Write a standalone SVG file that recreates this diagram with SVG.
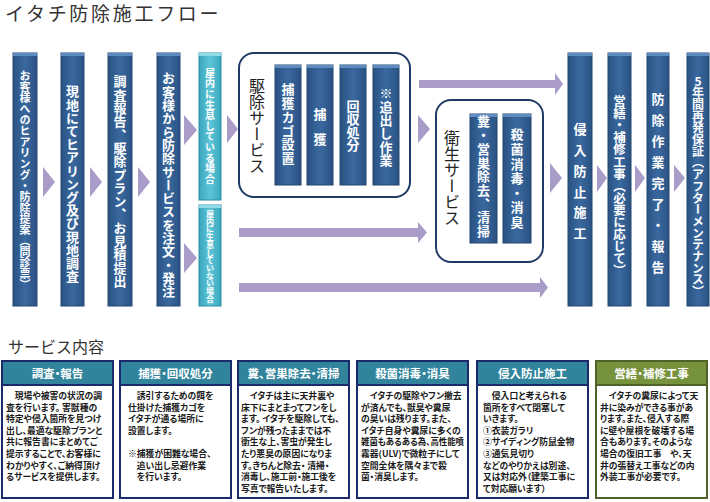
<svg xmlns="http://www.w3.org/2000/svg" width="710" height="502" viewBox="0 0 710 502">
<defs>
<linearGradient id="gB" x1="0" y1="0" x2="1" y2="0">
<stop offset="0" stop-color="#2a5282"/><stop offset="0.5" stop-color="#3a69a0"/><stop offset="1" stop-color="#2a5282"/>
</linearGradient>
<linearGradient id="gC" x1="0" y1="0" x2="1" y2="0">
<stop offset="0" stop-color="#3aa6bd"/><stop offset="0.5" stop-color="#5ec5d8"/><stop offset="1" stop-color="#3aa6bd"/>
</linearGradient>
<style>
.bx{fill:url(#gB);stroke:#22466f;stroke-width:1}
.cap{fill:#5f8cc0}
.cx{fill:url(#gC);stroke:#2e8ea3;stroke-width:1}
.ccap{fill:#8fdbe8}
.vt{writing-mode:vertical-rl;text-orientation:upright;font-family:"Noto Sans CJK JP","Noto Sans",sans-serif;fill:#fff;font-weight:bold}
.vl{writing-mode:vertical-rl;text-orientation:upright;font-family:"Noto Sans CJK JP","Noto Sans",sans-serif;fill:#222;font-size:16px}
.grp{fill:#fff;stroke:#1f3a66;stroke-width:2}
.ar{fill:#a99cc9}
.ttl{font-family:"Noto Sans CJK JP",sans-serif;fill:#333}
.card{fill:#fff;stroke:#1b2a6b;stroke-width:2}
.hd{fill:#31849b}
.cardg{fill:#fff;stroke:#4f6228;stroke-width:2}
.hdg{fill:#76923c}
.ht{font-family:"Noto Sans CJK JP",sans-serif;font-size:11.5px;font-weight:bold;fill:#fff;text-anchor:middle;font-feature-settings:"palt"}
.bt{font-family:"Noto Sans CJK JP",sans-serif;font-size:8.8px;font-weight:bold;fill:#1a1a1a;font-feature-settings:"palt"}
</style>
</defs>
<rect width="710" height="502" fill="#fff"/>
<text class="ttl" x="5" y="21" font-size="19" letter-spacing="2.7">イタチ防除施工フロー</text>

<g id="connectors">
<polygon class="ar" points="43,167 55,182 43,197"/>
<polygon class="ar" points="90,167 102,182 90,197"/>
<polygon class="ar" points="138,167 150,182 138,197"/>
<polygon class="ar" points="184,115 197,130 184,145"/>
<polygon class="ar" points="184,243 197,258 184,273"/>
<polygon class="ar" points="227,115 238,129 227,143"/>
<polygon class="ar" points="418,115 430,129 418,143"/>
<polygon class="ar" points="550,163 562,178 550,193"/>
<polygon class="ar" points="597,165 607,178 597,192"/>
<polygon class="ar" points="635,165 645,178 635,192"/>
<polygon class="ar" points="674,165 685,178 674,192"/>
<path class="ar" d="M419,80 H555 V73 L563,84 L555,95 V88 H419 Z"/>
<path class="ar" d="M239,228 H418 V222 L427,232.5 L418,243 V237 H239 Z"/>
<path class="ar" d="M239,283 H540 V277 L548,287.5 L540,298 V292 H239 Z"/>
</g>

<g id="n1"><rect class="bx" x="13" y="53" width="24" height="253"/><rect class="cap" x="13" y="53" width="24" height="3"/>
<text class="vt" x="25" y="70" font-size="11">お客様へのヒアリング・防除提案（問診票）</text></g>
<g id="n2"><rect class="bx" x="61" y="53" width="23" height="253"/><rect class="cap" x="61" y="53" width="23" height="3"/>
<text class="vt" x="72.5" y="85" font-size="13" letter-spacing="0.2">現地にてヒアリング及び現地調査</text></g>
<g id="n3"><rect class="bx" x="108" y="53" width="24" height="253"/><rect class="cap" x="108" y="53" width="24" height="3"/>
<text class="vt" x="120" y="75" font-size="13" letter-spacing="0.3">調査報告、駆除プラン、お見積提出</text></g>
<g id="n4"><rect class="bx" x="157" y="53" width="23" height="253"/><rect class="cap" x="157" y="53" width="23" height="3"/>
<text class="vt" x="168.5" y="72" font-size="13" letter-spacing="0.3">お客様から防除サービスを注文・発注</text></g>
<g id="c1"><rect class="cx" x="199" y="53" width="22" height="147"/><rect class="ccap" x="199" y="53" width="22" height="3"/>
<text class="vt" x="210" y="68" font-size="10" letter-spacing="0.6">屋内に生息している場合</text></g>
<g id="c2"><rect class="cx" x="199" y="205" width="22" height="101"/><rect class="ccap" x="199" y="205" width="22" height="3"/>
<text class="vt" x="210" y="210" font-size="8" letter-spacing="-0.3">屋内に生息していない場合</text></g>

<g id="kujo">
<rect class="grp" x="239" y="53" width="171" height="144" rx="15"/>
<text class="vl" x="257" y="78">駆除サービス</text>
<rect class="bx" x="275" y="65" width="26" height="120"/><rect class="cap" x="275" y="65" width="26" height="3"/>
<text class="vt" x="288" y="83" font-size="13" letter-spacing="0.7">捕獲カゴ設置</text>
<rect class="bx" x="307" y="65" width="26" height="120"/><rect class="cap" x="307" y="65" width="26" height="3"/>
<text class="vt" x="320" y="108" font-size="13" letter-spacing="12">捕獲</text>
<rect class="bx" x="340" y="65" width="26" height="120"/><rect class="cap" x="340" y="65" width="26" height="3"/>
<text class="vt" x="353" y="100" font-size="13">回収処分</text>
<rect class="bx" x="373" y="65" width="26" height="120"/><rect class="cap" x="373" y="65" width="26" height="3"/>
<text class="vt" x="386" y="87" font-size="13" letter-spacing="0.3">※追出し作業</text>
</g>

<g id="eisei">
<rect class="grp" x="436" y="100" width="107" height="162" rx="15"/>
<text class="vl" x="452" y="130">衛生サービス</text>
<rect class="bx" x="470" y="114" width="27" height="129"/><rect class="cap" x="470" y="114" width="27" height="3"/>
<text class="vt" x="483.5" y="115" font-size="13" letter-spacing="0.7">糞・営巣除去、清掃</text>
<rect class="bx" x="503" y="114" width="28" height="129"/><rect class="cap" x="503" y="114" width="28" height="3"/>
<text class="vt" x="517" y="128" font-size="13" letter-spacing="1.6">殺菌消毒・消臭</text>
</g>

<g id="n5"><rect class="bx" x="568" y="53" width="24" height="253"/><rect class="cap" x="568" y="53" width="24" height="3"/>
<text class="vt" x="580" y="123" font-size="13" letter-spacing="7.7">侵入防止施工</text></g>
<g id="n6"><rect class="bx" x="608" y="53" width="23" height="253"/><rect class="cap" x="608" y="53" width="23" height="3"/>
<text class="vt" x="619.5" y="95" font-size="12.5" letter-spacing="-0.4">営繕・補修工事（必要に応じて）</text></g>
<g id="n7"><rect class="bx" x="647" y="53" width="22" height="253"/><rect class="cap" x="647" y="53" width="22" height="3"/>
<text class="vt" x="658" y="93" font-size="13" letter-spacing="8">防除作業完了・報告</text></g>
<g id="n8"><rect class="bx" x="687" y="53" width="22" height="253"/><rect class="cap" x="687" y="53" width="22" height="3"/>
<text class="vt" x="698" y="75" font-size="12" letter-spacing="-0.3">5年間再発保証（アフターメンテナンス）</text></g>

<text class="ttl" x="8" y="353" font-size="16">サービス内容</text>

<g id="card1">
<rect class="card" x="2" y="361" width="111" height="137"/><rect class="hd" x="3" y="362" width="109" height="23"/><line x1="2" y1="385" x2="113" y2="385" stroke="#1b2a6b" stroke-width="2"/>
<text class="ht" x="57.5" y="378">調査・報告</text>
<text class="bt" x="6" y="399">　現場や被害の状況の調</text>
<text class="bt" x="6" y="410.6">査を行います。 害獣種の</text>
<text class="bt" x="6" y="422.2">特定や侵入箇所を見つけ</text>
<text class="bt" x="6" y="433.8">出し、最適な駆除プランと</text>
<text class="bt" x="6" y="445.4">共に報告書にまとめてご</text>
<text class="bt" x="6" y="457">提示することで、お客様に</text>
<text class="bt" x="6" y="468.6">わかりやすく、ご納得頂け</text>
<text class="bt" x="6" y="480.2">るサービスを提供します。</text>
</g>

<g id="card2">
<rect class="card" x="120" y="361" width="111" height="137"/><rect class="hd" x="121" y="362" width="109" height="23"/><line x1="120" y1="385" x2="231" y2="385" stroke="#1b2a6b" stroke-width="2"/>
<text class="ht" x="175.5" y="378">捕獲・回収処分</text>
<text class="bt" x="128" y="399">　誘引するための餌を</text>
<text class="bt" x="128" y="410.6">仕掛けた捕獲カゴを</text>
<text class="bt" x="128" y="422.2">イタチが通る場所に</text>
<text class="bt" x="128" y="433.8">設置します。</text>
<text class="bt" x="128" y="457">※捕獲が困難な場合、</text>
<text class="bt" x="128" y="468.6">　追い出し忌避作業</text>
<text class="bt" x="128" y="480.2">　を行います。</text>
</g>

<g id="card3">
<rect class="card" x="238" y="361" width="111" height="137"/><rect class="hd" x="239" y="362" width="109" height="23"/><line x1="238" y1="385" x2="349" y2="385" stroke="#1b2a6b" stroke-width="2"/>
<text class="ht" x="293.5" y="378" font-size="10.5">糞、営巣除去・清掃</text>
<text class="bt" x="241" y="399">　イタチは主に天井裏や</text>
<text class="bt" x="241" y="410.6">床下にまとまってフンをし</text>
<text class="bt" x="241" y="422.2">ます。 イタチを駆除しても、</text>
<text class="bt" x="241" y="433.8">フンが残ったままでは不</text>
<text class="bt" x="241" y="445.4">衛生な上、害虫が発生し</text>
<text class="bt" x="241" y="457">たり悪臭の原因になりま</text>
<text class="bt" x="241" y="468.6">す。きちんと除去・ 清掃・</text>
<text class="bt" x="241" y="480.2">消毒し、施工前・施工後を</text>
<text class="bt" x="241" y="491.8">写真で報告いたします。</text>
</g>

<g id="card4">
<rect class="card" x="357" y="361" width="111" height="137"/><rect class="hd" x="358" y="362" width="109" height="23"/><line x1="357" y1="385" x2="468" y2="385" stroke="#1b2a6b" stroke-width="2"/>
<text class="ht" x="412.5" y="378">殺菌消毒・消臭</text>
<text class="bt" x="361" y="399">　イタチの駆除やフン撤去</text>
<text class="bt" x="361" y="410.6">が済んでも、獣臭や糞尿</text>
<text class="bt" x="361" y="422.2">の臭いは残ります。また、</text>
<text class="bt" x="361" y="433.8">イタチ自身や糞尿に多くの</text>
<text class="bt" x="361" y="445.4" textLength="103" lengthAdjust="spacingAndGlyphs">雑菌もあるある為、高性能噴</text>
<text class="bt" x="361" y="457">霧器(ULV)で微粒子にして</text>
<text class="bt" x="361" y="468.6">空間全体を隅々まで殺</text>
<text class="bt" x="361" y="480.2">菌・消臭します。</text>
</g>

<g id="card5">
<rect class="card" x="477" y="361" width="111" height="137"/><rect class="hd" x="478" y="362" width="109" height="23"/><line x1="477" y1="385" x2="588" y2="385" stroke="#1b2a6b" stroke-width="2"/>
<text class="ht" x="532.5" y="378">侵入防止施工</text>
<text class="bt" x="483" y="399">　侵入口と考えられる</text>
<text class="bt" x="483" y="410.6">箇所をすべて閉塞して</text>
<text class="bt" x="483" y="422.2">いきます。</text>
<text class="bt" x="483" y="433.8">①衣装ガラリ</text>
<text class="bt" x="483" y="445.4">②サイディング防鼠金物</text>
<text class="bt" x="483" y="457">③通気見切り</text>
<text class="bt" x="483" y="468.6">などのやりかえは別途、</text>
<text class="bt" x="483" y="480.2">又は対応外（建築工事に</text>
<text class="bt" x="483" y="491.8">て対応願います）</text>
</g>

<g id="card6">
<rect class="cardg" x="596" y="361" width="111" height="137"/><rect class="hdg" x="597" y="362" width="109" height="23"/><line x1="596" y1="385" x2="707" y2="385" stroke="#4f6228" stroke-width="2"/>
<text class="ht" x="651.5" y="378">営繕・補修工事</text>
<text class="bt" x="600" y="399">　イタチの糞尿によって天</text>
<text class="bt" x="600" y="410.6">井に染みができる事があ</text>
<text class="bt" x="600" y="422.2">ります。また、侵入する際</text>
<text class="bt" x="600" y="433.8">に壁や屋根を破壊する場</text>
<text class="bt" x="600" y="445.4">合もあります。そのような</text>
<text class="bt" x="600" y="457">場合の復旧工事　や、天</text>
<text class="bt" x="600" y="468.6">井の張替え工事などの内</text>
<text class="bt" x="600" y="480.2">外装工事が必要です。</text>
</g>
</svg>
